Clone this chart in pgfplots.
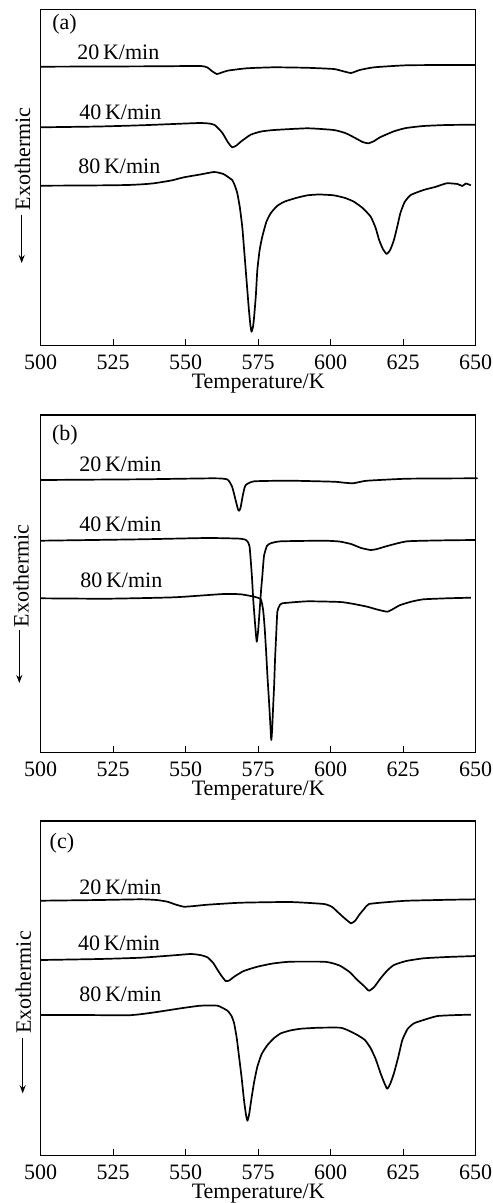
\documentclass[border=0pt]{standalone}
\usepackage{fontspec}
\setmainfont{Liberation Serif}
\usepackage{pgfplots}
\pgfplotsset{compat=1.18}
\usetikzlibrary{arrows.meta}

\pgfplotstableread{
x y
500 66.7
520 66.5
540 66.3
555 66
557.5 67.5
559 71
560.7 74
562 73
564.4 70.7
571 68.3
580.5 67.3
592 67.8
601 69
604 71
607 73
610 70
615 67.3
626 65.3
640 65
650 65
}\aA
\pgfplotstableread{
x y
500 127.3
520 126.5
534.5 125.3
550 123.5
555 123
558 123.5
560 125
562.6 132.7
564.5 142
566 147.3
567.5 145.5
569 141.7
572.4 134.7
576 131.5
580.5 130
592 128.3
601 130
605 133
608 137.3
611 142
613 143.3
615 141
617 137.3
621.8 131.3
626 128
632 126
640 125
650 124.7
}\aB
\pgfplotstableread{
x y
500 185.7
515 185.5
523 185.3
530 185
535 184.3
539 183.3
545 180.5
549.4 177.3
555 174.5
559.8 172
563 174
566 180
567 186
567.8 193.3
568.7 208
569.5 226.7
570.1 248
570.7 270
571.3 292
571.8 310
572.3 325
572.7 331.7
573.2 327
573.6 316.7
574.2 295
574.7 270
575.5 250
576.4 236.7
577.8 222
579.3 213.3
581.5 206
584 201.7
588 198
592 195.3
596 194.5
601 195.3
605 198
608 201.7
611 208
613.8 216.7
615.5 228
616.7 240
618 249
619.3 254
620.5 250
621.8 240
623 226
624 213.3
625.5 202
627.6 195
632 190
636 187
640 183.3
643.7 184
645.4 186
646.6 183.5
648.3 185.3
}\aC
\pgfplotstableread{
x y
500 480
534.5 479.3
559.8 478.3
564.4 479.5
566 486.7
567.2 500
568 509
568.4 510.7
568.9 508
569.5 498.3
570.1 490
570.7 485
573.6 481.3
586 480.7
601 481.7
604 482.5
607.5 483.3
610 482
612.6 480.7
626.4 478.7
649.4 478.3
650 478.3
}\bA
\pgfplotstableread{
x y
500 540.7
534.5 539.3
557.5 538
569 538.7
571 540.5
572 546
572.8 575
573.3 600
574 626.7
574.5 641.7
575 630
575.5 610
576 590
576.4 576.7
577 556
578 546
579.3 543.3
582.8 541.3
597.7 540.7
603 541.5
607 544
610.5 548
613.8 550
616 549
619.5 546
626.4 541.3
640 540.3
650 540
}\bB
\pgfplotstableread{
x y
500 598.3
523 598.7
546 597.3
563 594
569 594.3
573.6 596.7
575.9 599.3
576.7 610
577.2 626.7
577.7 650
578.2 676.7
578.7 700
579.1 720
579.5 740
579.8 730
580.1 710
580.5 685
580.8 660
581.2 635
581.6 611.7
582.3 606
583.3 603.3
592 601.3
603.4 602
608 604
612.6 606.7
616 609.5
619.5 611.7
621.5 609
624 605
628 601.5
632 599.3
640 598.3
648.3 597.7
}\bC
\pgfplotstableread{
x y
500 900.7
520 900
534.5 899.3
540 900
543.7 901.7
546.5 904.5
549.4 906.7
553 906
557.5 904.7
569 902.7
586 902
597.7 904
600.5 907
602.3 911.7
604.5 917.5
607 923.3
608.5 920.5
609.8 915
611.5 909
613.2 904
620 902
626.4 900.7
640 899.8
650 899.3
}\cA
\pgfplotstableread{
x y
500 960
520 959
534.5 957.7
545 955.5
551.7 954
555 955
557.5 957.3
559.5 963
561 970
562.5 976.5
563.8 981
565 980.5
566.7 976.7
570 971
574.7 966.7
580 963.5
586 961.7
597.7 961.7
601 963.5
603.4 966
606.5 972
609.2 980
611.5 986
613.2 990.7
615 987
617.2 978.3
619.5 970.5
621.8 965
626 961
632 958.3
640 957
650 956
}\cB
\pgfplotstableread{
x y
500 1015
515 1015
529.9 1015.3
535 1014
540 1012
548.3 1008.3
555 1005.7
561 1005.7
564.4 1010.7
565.8 1016
566.7 1023.3
567.6 1038
568.4 1056.7
569.3 1078
570.1 1100
570.8 1115
571.3 1120.7
571.9 1114
572.6 1100
573.6 1082
574.7 1066.7
576.2 1054
578.2 1045
580.5 1038
582.8 1033.3
586 1030.5
589.7 1028.7
596 1027.7
603.4 1027.7
606.5 1031
609.2 1035
611.8 1040
613.8 1048.3
615.5 1059
617.2 1073.3
618.5 1083
619.5 1088.7
620.5 1084
621.8 1073.3
623.3 1057
624.7 1040
626.5 1029
628.7 1023.3
632 1020
636.8 1016
643.7 1015
648.3 1014.7
}\cC

\pgfplotsset{
  dscstyle/.style={
    scale only axis,
    width=217.5pt,
    xmin=500, xmax=650,
    xtick={500,525,550,575,600,625,650},
    ytick=\empty,
    y dir=reverse,
    xtick pos=bottom,
    tick align=inside,
    major tick length=3.3pt,
    axis line style={line width=0.7pt},
    every tick/.style={line width=0.6pt, black},
    font=\fontsize{11}{13}\selectfont,
    /pgf/number format/assume math mode=true,
    /pgf/number format/set thousands separator={},
    xticklabel style={yshift=-1.0pt},
    xlabel={Temperature/K},
    xlabel style={at={(axis description cs:0.5,0)}, anchor=base, yshift=-21.3pt},
    clip=false,
    cycle list={{black},{black},{black}},
    every axis plot/.append style={line width=0.85pt, line join=round, smooth, tension=0.3},
    no markers,
    anchor=south west,
  }
}

\begin{document}
\begin{tikzpicture}
\path[use as bounding box] (0,0) rectangle (246pt,-601.5pt);

\begin{axis}[dscstyle, at={(20.35pt,-172.85pt)}, height=168.2pt, ymin=9.3, ymax=345.7]
\addplot table[x=x,y=y] {\aA};
\addplot table[x=x,y=y] {\aB};
\addplot table[x=x,y=y] {\aC};
\end{axis}

\begin{axis}[dscstyle, at={(20.35pt,-376.35pt)}, height=168.85pt, ymin=415, ymax=752.7]
\addplot table[x=x,y=y] {\bA};
\addplot table[x=x,y=y] {\bB};
\addplot table[x=x,y=y] {\bC};
\end{axis}

\begin{axis}[dscstyle, at={(20.35pt,-577.85pt)}, height=167.35pt, ymin=821, ymax=1155.7]
\addplot table[x=x,y=y] {\cA};
\addplot table[x=x,y=y] {\cB};
\addplot table[x=x,y=y] {\cC};
\end{axis}

\begin{scope}[x=0.5pt,y=-0.5pt, font=\fontsize{11}{13}\selectfont]
% panel labels
\node[anchor=base west, inner sep=0pt] at (52,30) {(a)};
\node[anchor=base west, inner sep=0pt] at (51.7,440) {(b)};
\node[anchor=base west, inner sep=0pt] at (49.3,848) {(c)};
% rate labels
\node[anchor=base west, inner sep=0pt] at (77,59.3) {20\,K/min};
\node[anchor=base west, inner sep=0pt] at (79,119.3) {40\,K/min};
\node[anchor=base west, inner sep=0pt] at (78,173.3) {80\,K/min};
\node[anchor=base west, inner sep=0pt] at (79,471.7) {20\,K/min};
\node[anchor=base west, inner sep=0pt] at (79,531.7) {40\,K/min};
\node[anchor=base west, inner sep=0pt] at (80,587.7) {80\,K/min};
\node[anchor=base west, inner sep=0pt] at (79,894.3) {20\,K/min};
\node[anchor=base west, inner sep=0pt] at (77.7,950.7) {40\,K/min};
\node[anchor=base west, inner sep=0pt] at (79,1001.7) {80\,K/min};
% y labels
\node[rotate=90, inner sep=0pt] at (22.5,159) {Exothermic};
\draw[line width=0.6pt, -{Stealth[length=4pt,width=3pt]}] (21.7,215) -- (21.7,263);
\node[rotate=90, inner sep=0pt] at (21,575.9) {Exothermic};
\draw[line width=0.6pt, -{Stealth[length=4pt,width=3pt]}] (19.3,630) -- (19.3,683);
\node[rotate=90, inner sep=0pt] at (23.3,982.5) {Exothermic};
\draw[line width=0.6pt, -{Stealth[length=4pt,width=3pt]}] (22.7,1038.3) -- (22.7,1093.3);
\end{scope}
\end{tikzpicture}
\end{document}
